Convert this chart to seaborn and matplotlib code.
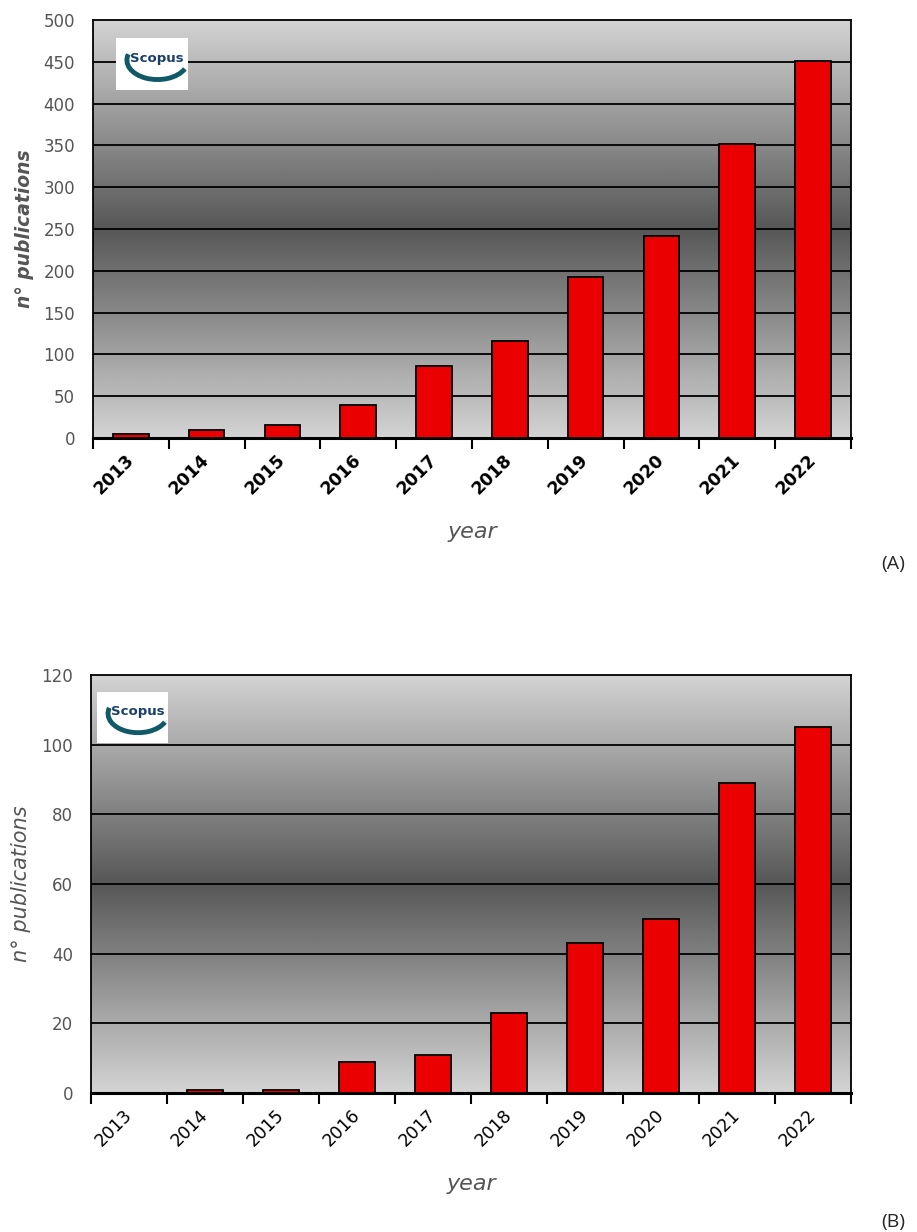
import numpy as np
import pandas as pd
import matplotlib
matplotlib.use("Agg")
import matplotlib.pyplot as plt
from matplotlib.patches import Rectangle, Arc
import seaborn as sns

# Data
years = ["2013", "2014", "2015", "2016", "2017", "2018", "2019", "2020", "2021", "2022"]
pubs_a = [5, 9, 16, 40, 86, 116, 193, 241, 352, 451]
pubs_b = [0, 1, 1, 9, 11, 23, 43, 50, 89, 105]

sns.set_style("white")
plt.rcParams["font.family"] = ["DejaVu Sans"]

fig = plt.figure(figsize=(9.17, 12.32), dpi=100)
ax_a = fig.add_axes([0.1014, 0.6445, 0.8266, 0.3393])
ax_b = fig.add_axes([0.0992, 0.1128, 0.8288, 0.3393])

# vertical grey shading: light at top and bottom, dark in the middle
t = np.linspace(0, 1, 256)
shade = 0.83 - 0.49 * (1 - np.abs(2 * t - 1))
shade = np.repeat(shade[:, None], 2, axis=1)


def draw_panel(ax, values, ymax, ystep, logo_box, weight, ylab_size):
    df = pd.DataFrame({"year": years, "n": values})
    ax.imshow(shade, cmap="gray", vmin=0, vmax=1, aspect="auto",
              extent=(-0.5, 9.5, 0, ymax), zorder=0)
    sns.barplot(data=df, x="year", y="n", order=years, color="#ea0000",
                saturation=1, width=0.47, edgecolor="black", linewidth=1.3,
                ax=ax, zorder=3)
    ax.set_xlim(-0.5, 9.5)
    ax.set_ylim(0, ymax)
    ax.set_yticks(np.arange(0, ymax + 1, ystep))
    for y in np.arange(ystep, ymax, ystep):
        ax.axhline(y, color="black", lw=1.3, zorder=1)
    for s in ax.spines.values():
        s.set_color("black")
        s.set_linewidth(1.3)
    ax.spines["bottom"].set_linewidth(2.2)
    # categories centred, tick marks at the boundaries
    ax.set_xticks(range(len(years)))
    ax.set_xticks(np.arange(-0.5, 10, 1), minor=True)
    ax.tick_params(axis="x", which="major", length=0, pad=14)
    ax.tick_params(axis="x", which="minor", length=8, width=1.5,
                   direction="out", color="black", bottom=True)
    ax.tick_params(axis="y", length=0, pad=13, labelsize=12,
                   labelcolor="#555555")
    ax.set_xticklabels(years, rotation=45, ha="right", va="center",
                       rotation_mode="anchor", fontsize=12.5,
                       fontweight=weight, color="black")
    ax.set_xlabel("year", fontsize=16, style="italic", color="#555555",
                  labelpad=17)
    ax.set_ylabel("n° publications", fontsize=ylab_size, style="italic",
                  fontweight=weight, color="#555555", labelpad=7)
    # Scopus logo stand-in
    x0, y0, w, h = logo_box
    ax.add_patch(Rectangle((x0, y0), w, h, transform=ax.transAxes,
                           facecolor="white", edgecolor="none", zorder=4))
    ax.add_patch(Arc((x0 + w * 0.58, y0 + h * 0.58), w * 0.85, h * 0.75,
                     theta1=160, theta2=330, transform=ax.transAxes,
                     color="#0f5a66", lw=3.5, zorder=5))
    ax.text(x0 + w * 0.57, y0 + h * 0.62, "Scopus", transform=ax.transAxes,
            ha="center", va="center", fontsize=9.5, fontweight="bold",
            color="#1b3f6b", zorder=6)


draw_panel(ax_a, pubs_a, 500, 50, (0.030, 0.832, 0.095, 0.124), "bold", 13.5)
draw_panel(ax_b, pubs_b, 120, 20, (0.008, 0.837, 0.093, 0.122), "normal", 15)

fig.text(0.987, 0.542, "(A)", ha="right", va="center", fontsize=14,
         family=["Open Sans", "DejaVu Sans"])
fig.text(0.987, 0.008, "(B)", ha="right", va="center", fontsize=14,
         family=["Open Sans", "DejaVu Sans"])

fig.savefig("out.png", dpi=100)
